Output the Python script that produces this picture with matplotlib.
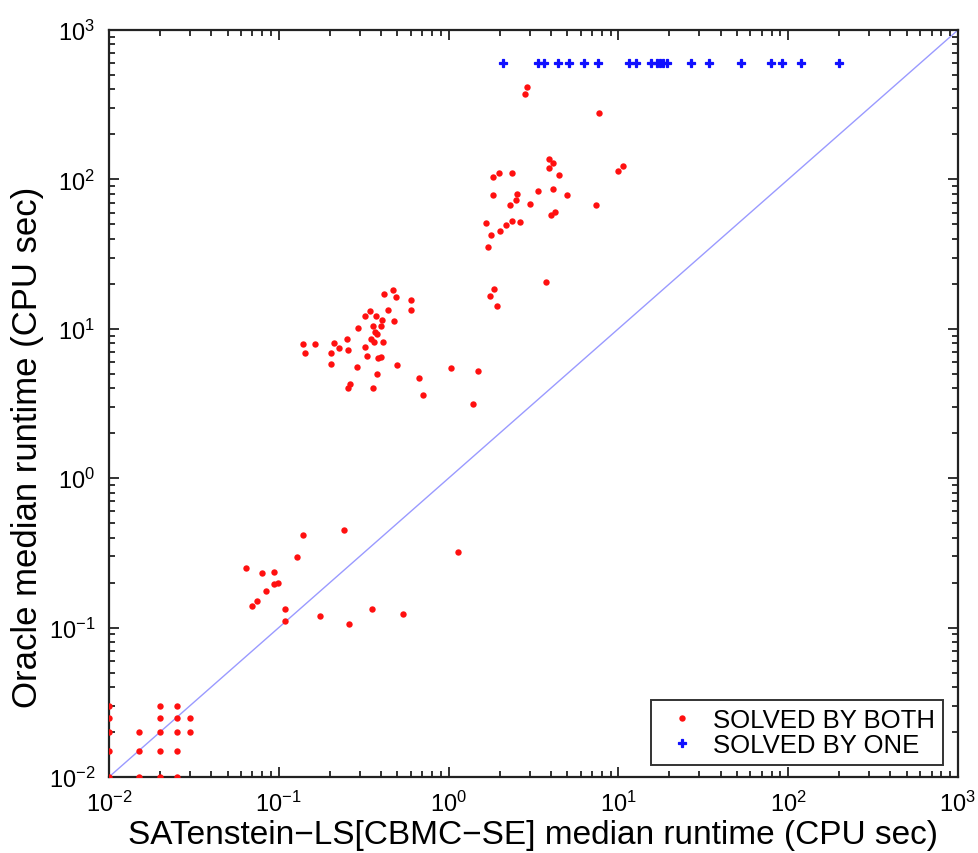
import matplotlib
matplotlib.use("Agg")
import matplotlib.pyplot as plt
import numpy as np

plt.rcParams['font.family'] = ['Liberation Sans', 'DejaVu Sans']
plt.rcParams['mathtext.fontset'] = 'custom'
plt.rcParams['mathtext.rm'] = 'Liberation Sans'
plt.rcParams['mathtext.it'] = 'Liberation Sans:italic'
plt.rcParams['mathtext.bf'] = 'Liberation Sans:bold'

# SOLVED BY BOTH: (SATenstein runtime, Oracle runtime)
both_x = [
    # easy cluster
    0.01, 0.01, 0.01, 0.01, 0.01,
    0.015, 0.015, 0.015,
    0.02, 0.02, 0.02, 0.02, 0.02,
    0.025, 0.025, 0.025, 0.025, 0.025,
    0.03, 0.03,
    # sub-second group
    0.138, 0.243, 0.128, 0.0638, 0.0797, 0.0937, 0.0937, 0.0989, 0.0838,
    0.0741, 0.0695, 0.109, 0.109, 0.174, 0.260, 0.352, 0.537, 1.13,
    # middle group
    0.417, 0.469, 0.492, 0.603, 0.603, 0.438, 0.346, 0.323, 0.372, 0.404,
    0.398, 0.477, 0.357, 0.293, 0.367, 0.380, 0.349, 0.364, 0.411, 0.252,
    0.212, 0.225, 0.257, 0.323, 0.138, 0.163, 0.142, 0.202, 0.330, 0.384,
    0.398, 0.202, 0.288, 0.499, 1.03, 1.49, 0.380, 0.667, 0.264, 0.257,
    0.357, 0.710, 1.39,
    # hard group
    3.92, 4.14, 3.92, 1.82, 1.98, 2.37, 4.49, 10.0, 10.7, 1.82,
    2.54, 2.49, 2.29, 3.38, 4.12, 4.96, 3.00, 7.41, 3.99, 4.22,
    1.67, 1.78, 2.02, 2.19, 2.37, 2.63, 1.70, 3.73, 1.85, 1.76,
    1.92, 2.91, 2.81, 7.69,
]
both_y = [
    0.03, 0.025, 0.02, 0.015, 0.01,
    0.02, 0.015, 0.01,
    0.03, 0.025, 0.02, 0.015, 0.01,
    0.03, 0.025, 0.02, 0.015, 0.01,
    0.025, 0.02,
    0.419, 0.452, 0.297, 0.251, 0.233, 0.237, 0.196, 0.199, 0.175,
    0.150, 0.139, 0.134, 0.110, 0.120, 0.105, 0.134, 0.124, 0.322,
    17.1, 18.2, 16.2, 15.6, 13.4, 13.4, 13.2, 12.2, 12.2, 11.5,
    10.5, 11.3, 10.4, 10.2, 9.48, 9.19, 8.51, 8.12, 8.20, 8.51,
    8.07, 7.44, 7.25, 7.59, 7.91, 7.91, 6.89, 6.89, 6.61, 6.38,
    6.51, 5.81, 5.58, 5.70, 5.47, 5.20, 4.96, 4.71, 4.27, 4.01,
    4.03, 3.61, 3.15,
    136, 129, 119, 104, 111, 111, 107, 113, 122, 78.6,
    80.2, 72.5, 67.4, 83.2, 86.3, 78.6, 68.8, 67.4, 57.8, 60.2,
    50.8, 42.7, 45.4, 49.5, 52.7, 51.9, 35.3, 20.7, 18.5, 16.6,
    14.2, 414, 373, 277,
]

# SOLVED BY ONE (Oracle timed out at cutoff)
one_x = [2.08, 3.38, 3.65, 4.39, 5.10, 6.30, 7.62, 11.5, 12.7, 15.5,
         16.8, 17.6, 18.2, 19.4, 26.7, 34.0, 52.9, 78.9, 91.6, 119, 199]
one_y = [600] * len(one_x)

diag = [1e-2, 1e3]

fig = plt.figure(figsize=(9.79, 8.54), dpi=100)
ax = fig.add_axes([0.1113, 0.0890, 0.8672, 0.8747])

ax.plot(diag, diag, color='#9a9aff', linewidth=1.0, zorder=1)
ax.plot(both_x, both_y, linestyle='none', marker='o', markersize=4.6,
        color='#ff1010', markeredgewidth=0, label='SOLVED BY BOTH', zorder=3)
ax.plot(one_x, one_y, linestyle='none', marker='P', markersize=5.2,
        color='#1010ff', markeredgecolor='#1010ff', markeredgewidth=0.9,
        label='SOLVED BY ONE', zorder=3)

ax.set_xscale('log')
ax.set_yscale('log')
ax.set_xlim(1e-2, 1e3)
ax.set_ylim(1e-2, 1e3)

for s in ax.spines.values():
    s.set_linewidth(1.6)
    s.set_color('#222222')
ax.tick_params(which='both', direction='in', top=True, right=True, width=1.3,
               color='#222222')
ax.tick_params(which='major', length=7, labelsize=17, pad=10)
ax.tick_params(which='minor', length=4)

ax.set_xlabel('SATenstein\u2212LS[CBMC\u2212SE] median runtime (CPU sec)', fontsize=24, labelpad=2)
ax.set_ylabel('Oracle median runtime (CPU sec)', fontsize=25)
ax.yaxis.set_label_coords(-0.076, 0.443)

leg = ax.legend(loc='lower right', fontsize=18.5, frameon=True, fancybox=False,
                edgecolor='black', handlelength=1.8, handletextpad=0.3,
                borderpad=0.3, labelspacing=0.05, markerscale=1.0,
                bbox_to_anchor=(0.982, 0.016), borderaxespad=0)
leg.get_frame().set_linewidth(1.4)

fig.savefig('out.png', dpi=100)
